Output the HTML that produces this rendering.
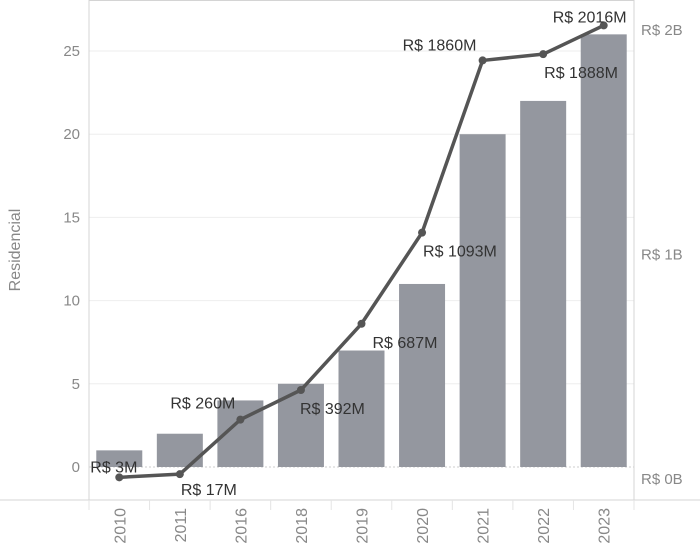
<!DOCTYPE html>
<html><head><meta charset="utf-8"><style>
body{margin:0;background:#fff;font-family:"Liberation Sans",sans-serif}
svg text{font-family:"Liberation Sans",sans-serif}
</style></head><body>
<svg width="700" height="547">
<g id="grid"></g><g id="bars"></g><g id="line"></g><g id="labels"></g><g id="axes"></g>
</svg>
<script>
const categories=["2010","2011","2016","2018","2019","2020","2021","2022","2023"];
const barValues=[1,2,4,5,7,11,20,22,26];
const lineValues=[3,17,260,392,687,1093,1860,1888,2016];
const lineLabels=["R$ 3M","R$ 17M","R$ 260M","R$ 392M","R$ 687M","R$ 1093M","R$ 1860M","R$ 1888M","R$ 2016M"];
const leftTicks=[0,5,10,15,20,25];
const rightTicks=[0,1000,2000];
const rightTickLabels=["R$ 0B","R$ 1B","R$ 2B"];
const labelOffsets=[[-29,-5],[1,21],[-70,-11],[-1,24],[11,24],[1,24],[-80,-10],[1,24],[-51,-3]];
const L=89,R=634,T=0,B=500,n=categories.length,bw=(R-L)/n;
const x=i=>L+bw*(i+0.5);
const yL=v=>467-16.64*v;
const yR=m=>478-0.2245*m;
const NS="http://www.w3.org/2000/svg";
function mk(p,t,a){const e=document.createElementNS(NS,t);for(const k in a)e.setAttribute(k,a[k]);document.getElementById(p).appendChild(e);return e;}
leftTicks.forEach(v=>{const g=mk('grid','line',{x1:L,x2:R,y1:yL(v),y2:yL(v),stroke:v===0?'#ccc':'#eee','stroke-dasharray':v===0?'2,2':''});


const t=mk('axes','text',{x:80,y:yL(v)+5,'text-anchor':'end','font-size':15,fill:'#888'});t.textContent=v;

});
rightTicks.forEach((m,i)=>{const t=mk('axes','text',{x:641,y:yR(m)+6,'font-size':15,fill:'#888'});t.textContent=rightTickLabels[i];

});
[[L,0,L,B],[R,0,R,B],[0,B,700,B],[L,0.5,R,0.5]].forEach(c=>{const l=mk('axes','line',{x1:c[0],y1:c[1],x2:c[2],y2:c[3],stroke:'#d4d4d4'});

});
for(let i=0;i<=n;i++){const l=mk('axes','line',{x1:L+bw*i,x2:L+bw*i,y1:B,y2:B+10,stroke:'#e4e4e4'});

}
const yt=mk('axes','text',{x:20,y:250,'text-anchor':'middle','font-size':16,fill:'#888',transform:'rotate(-90 20 250)'});yt.textContent='Residencial';


barValues.forEach((v,i)=>{const r=mk('bars','rect',{x:x(i)-23,y:yL(v),width:46,height:yL(0)-yL(v),fill:'#94979f'});


const t=mk('axes','text',{x:0,y:0,'text-anchor':'end','font-size':16,fill:'#888',transform:`translate(${x(i)+6},508) rotate(-90)`});t.textContent=categories[i];

});
const pl=mk('line','polyline',{points:lineValues.map((m,i)=>x(i)+','+yR(m)).join(' '),fill:'none',stroke:'#555',"stroke-width":3.5,'stroke-linejoin':'round'});


lineValues.forEach((m,i)=>{const c=mk('line','circle',{cx:x(i),cy:yR(m),r:4,fill:'#555'});


const t=mk('labels','text',{x:x(i)+labelOffsets[i][0],y:yR(m)+labelOffsets[i][1],'font-size':16,fill:'#333'});t.textContent=lineLabels[i];

});
</script>
</body></html>
